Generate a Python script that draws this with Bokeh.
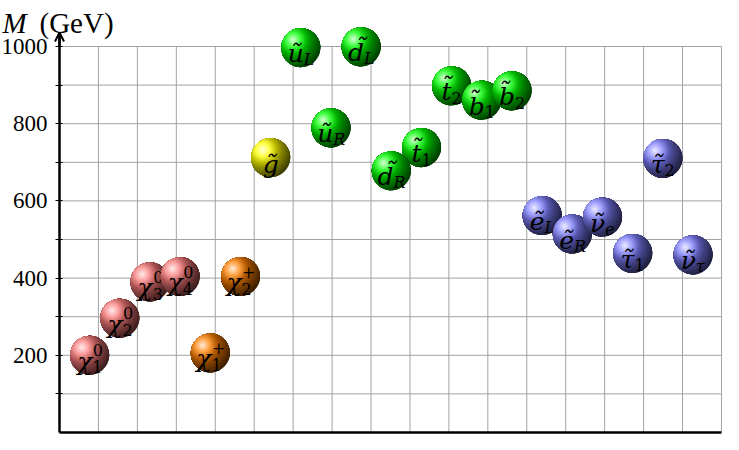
import numpy as np
from bokeh.plotting import figure
from bokeh.models import Range1d, FixedTicker, Label, Arrow, OpenHead
from bokeh.core.properties import value
from bokeh.embed import file_html
from bokeh.resources import INLINE

# ---------------- data ----------------
MAIN = ["\u03c7", "\u03c7", "\u03c7", "\u03c7", "\u03c7", "\u03c7", "g\u0303",
        "u\u0303", "u\u0303", "d\u0303", "d\u0303", "t\u0303", "t\u0303", "b\u0303", "b\u0303",
        "e\u0303", "e\u0303", "\u03bd\u0303", "\u03c4\u0303", "\u03c4\u0303", "\u03bd\u0303"]
SUB = ["1", "2", "3", "4", "1", "2", "",
       "L", "R", "L", "R", "1", "2", "1", "2",
       "L", "R", "e", "1", "2", "\u03c4"]
SUP = ["0", "0", "0", "0", "+", "+", "",
       "", "", "", "", "", "", "", "",
       "", "", "", "", "", ""]
MASS = [200, 296, 390, 404, 206, 404, 712,
        997, 789, 999, 678, 738, 898, 861, 885,
        562, 514, 558, 464, 710, 460]
GROUP = ["neutralino"] * 4 + ["chargino"] * 2 + ["gluino"] + ["squark"] * 8 + ["slepton"] * 6
GROUP_COLOR = {"neutralino": (250, 122, 122), "chargino": (255, 128, 0),
               "gluino": (255, 255, 0), "squark": (0, 255, 0), "slepton": (128, 128, 255)}
DRAW_ORDER = [0, 1, 2, 3, 4, 5, 6, 7, 8, 9, 11, 10, 12, 13, 14, 15, 16, 17, 18, 19, 20]
Y_TICKS = [200, 400, 600, 800, 1000]
Y_MINOR = [100, 300, 500, 700, 900]
GRID_X = list(range(1, 18))
GRID_Y = list(range(100, 1001, 100))
GRID_TOP = 1000
GRID_RIGHT = 17

# ---------------- layout ----------------
W, H = 723, 434
AXIS_PX = 59                      # x pixel of the y axis inside the figure
ZERO_PX = 432                     # y pixel (from top) of M = 0
TIP_PX = 32                       # y pixel (from top) of the axis arrow tip
PXX = 38.94                       # px per grid unit
PXY = 0.386                       # px per GeV
X_START = -AXIS_PX / PXX
X_END = X_START + W / PXX
Y_START = -(H - ZERO_PX) / PXY
Y_END = Y_START + H / PXY
Y_TIP = (ZERO_PX - TIP_PX) / PXY
SLOT = 0.7748                     # spacing of particles in grid units
R = 19.5                          # sphere radius, px

p = figure(width=W, height=H, x_range=Range1d(X_START, X_END),
           y_range=Range1d(Y_START, Y_END),
           output_backend="svg", toolbar_location=None, tools="",
           x_axis_location=None, min_border_left=0, min_border_right=0,
           min_border_top=0, min_border_bottom=0)
p.outline_line_color = None
p.xgrid.visible = False
p.ygrid.visible = False
p.background_fill_color = "white"
p.border_fill_color = "white"

# grid
GRID_COLOR = "#a3a3a3"
p.segment(x0=GRID_X, y0=[0] * len(GRID_X), x1=GRID_X, y1=[GRID_TOP] * len(GRID_X),
          line_color=GRID_COLOR, line_width=1)
p.segment(x0=[0] * len(GRID_Y), y0=GRID_Y, x1=[GRID_RIGHT] * len(GRID_Y), y1=GRID_Y,
          line_color=GRID_COLOR, line_width=1)
# bottom axis line
p.segment(x0=[0], y0=[0], x1=[GRID_RIGHT], y1=[0], line_color="black", line_width=2.7)

# y axis, placed at x = 0 inside the frame
ax = p.yaxis[0]
ax.fixed_location = 0
ax.bounds = (0, Y_TIP)
ax.ticker = FixedTicker(ticks=Y_TICKS, minor_ticks=Y_MINOR)
ax.axis_line_width = 2.5
ax.axis_line_color = "black"
ax.major_tick_in = 3
ax.major_tick_out = 4
ax.minor_tick_in = 3
ax.minor_tick_out = 4
ax.major_tick_line_color = "black"
ax.minor_tick_line_color = "black"
ax.major_tick_line_width = 1
ax.minor_tick_line_width = 1
ax.major_label_text_font = "Liberation Serif"
ax.major_label_text_font_size = "23px"
ax.major_label_text_color = "black"
ax.major_label_standoff = 8

p.add_layout(Arrow(end=OpenHead(size=9, line_width=2, line_color="black"),
                   x_start=0, y_start=GRID_TOP, x_end=0, y_end=Y_TIP,
                   line_width=2.5, line_color="black"))

# title
p.add_layout(Label(x=2, y=412, x_units="screen", y_units="screen", text="M",
                   text_font="Liberation Serif", text_font_style="italic",
                   text_font_size="29px", text_baseline="alphabetic", text_color="black"))
p.add_layout(Label(x=39, y=412, x_units="screen", y_units="screen", text="(GeV)",
                   text_font="Liberation Serif", text_font_size="29px",
                   text_baseline="alphabetic", text_color="black"))

# ---------------- ball shading ----------------
WHITE, BLACK = (255, 255, 255), (0, 0, 0)


def mix(a, b, t):
    return tuple(a[k] * (1 - t) + b[k] * t for k in range(3))


def shade(base, d):
    stops = [(0.0, mix(WHITE, base, 0.15)), (0.36, mix(WHITE, base, 0.75)),
             (0.72, mix(BLACK, base, 0.7)), (1.0, mix(BLACK, base, 0.5)), (2.0, BLACK)]
    for (d0, c0), (d1, c1) in zip(stops[:-1], stops[1:]):
        if d <= d1:
            t = (d - d0) / (d1 - d0)
            c = mix(c0, c1, max(0.0, min(1.0, t)))
            break
    else:
        c = BLACK
    return "#%02x%02x%02x" % tuple(int(round(v)) for v in c)


phi = np.linspace(0, 2 * np.pi, 97)
ux, uy = np.cos(phi), np.sin(phi)
vx, vy = -0.4 * R, 0.4 * R
vu = vx * ux + vy * uy
s_edge = -vu + np.sqrt(vu ** 2 - (vx ** 2 + vy ** 2) + R ** 2)
smax = float(s_edge.max())
NR = 40
rhos = np.linspace(smax, smax / NR, NR)
step = smax / NR

SCRIPT_W = {"0": 10.2, "1": 10.2, "2": 10.2, "3": 10.2, "4": 10.2, "+": 13.4,
            "L": 10.2, "R": 11.7, "e": 9.5, "\u03c4": 9.0, "": 0.0}
MAIN_W = {"\u03c7": 15.5, "g": 16.0, "u": 16.1, "d": 16.0, "t": 10.0, "b": 16.0,
          "e": 14.8, "\u03bd": 14.5, "\u03c4": 13.5}

FONT = value("DejaVu Serif")
for i in DRAW_ORDER:
    cx = SLOT * (i + 1)
    cy = MASS[i]
    base = GROUP_COLOR[GROUP[i]]
    xs, ys, cols = [], [], []
    for rho in rhos:
        r = np.minimum(rho, s_edge)
        xs.append(list(cx + (vx + r * ux) / PXX))
        ys.append(list(cy + (vy + r * uy) / PXY))
        cols.append(shade(base, max(rho - step / 2, 0) / R))
    p.patches(xs=xs, ys=ys, fill_color=cols, line_color=None)

    mw = MAIN_W[MAIN[i][0]]
    ws = max(SCRIPT_W[SUB[i]], SCRIPT_W[SUP[i]])
    if ws == 0:
        p.text(x=[cx], y=[cy], text=[MAIN[i]], x_offset=0, y_offset=7,
               text_font=FONT, text_font_style="italic",
               text_font_size="25px", text_align="center", text_baseline="alphabetic",
               text_color="black")
        continue
    j = (mw - ws) / 2.0
    p.text(x=[cx], y=[cy], text=[MAIN[i]], x_offset=j, y_offset=6,
           text_font=FONT, text_font_style="italic",
           text_font_size="25px", text_align="right", text_baseline="alphabetic",
           text_color="black")
    if SUB[i]:
        style = "normal" if SUB[i].isdigit() else "italic"
        p.text(x=[cx], y=[cy], text=[SUB[i]], x_offset=j, y_offset=12,
               text_font=FONT, text_font_style=style,
               text_font_size="16px", text_align="left", text_baseline="alphabetic",
               text_color="black")
    if SUP[i]:
        p.text(x=[cx], y=[cy], text=[SUP[i]], x_offset=j + 0.5, y_offset=-5,
               text_font=FONT, text_font_style="normal",
               text_font_size="16px", text_align="left", text_baseline="alphabetic",
               text_color="black")

open("out.html", "w").write(file_html(p, INLINE))
